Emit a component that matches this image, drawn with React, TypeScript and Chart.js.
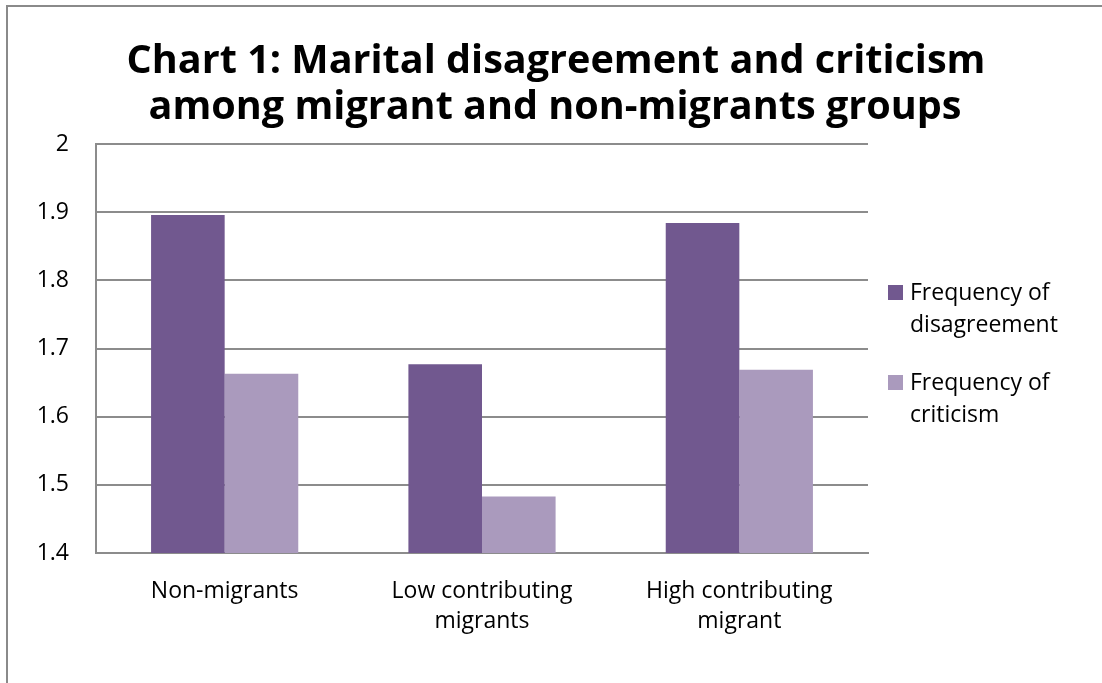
import React, { useEffect, useRef } from "react";
import { Chart, registerables } from "chart.js";

Chart.register(...registerables);

const categories: string[][] = [["Non-migrants"], ["Low contributing", "migrants"], ["High contributing", "migrant"]];
const seriesNames = ["Frequency of disagreement", "Frequency of criticism"];
const legendLines: string[][] = [["Frequency of", "disagreement"], ["Frequency of", "criticism"]];
const disagreement = [1.896, 1.677, 1.884];
const criticism = [1.663, 1.483, 1.669];
const titleLines = ["Chart 1: Marital disagreement and criticism", "among migrant and non-migrants groups"];
const yMin = 1.4;
const yMax = 2;
const yStep = 0.1;

const FONT = '"Open Sans", "DejaVu Sans", sans-serif';
const COLORS = ["#71588F", "#AA9ABD"];
const GRID = "#8c8c8c";

const framePlugin = {
  id: "frame",
  beforeDraw(chart: any) {
    const ctx = chart.ctx;
    ctx.save();
    ctx.fillStyle = "#ffffff";
    ctx.fillRect(0, 0, chart.width, chart.height);
    ctx.strokeStyle = "#8a8a8a";
    ctx.lineWidth = 2;
    ctx.beginPath();
    ctx.moveTo(7, chart.height);
    ctx.lineTo(7, 6);
    ctx.lineTo(chart.width, 6);
    ctx.stroke();
    ctx.restore();
  },
};

const titlePlugin = {
  id: "customTitle",
  afterDraw(chart: any) {
    const ctx = chart.ctx;
    ctx.save();
    ctx.fillStyle = "#000000";
    ctx.font = `bold 39.6px ${FONT}`;
    ctx.textAlign = "center";
    ctx.textBaseline = "alphabetic";
    ctx.fillText(titleLines[0], 556, 73);
    ctx.fillText(titleLines[1], 555, 119);
    ctx.restore();
  },
};

const legendPlugin = {
  id: "customLegend",
  afterDraw(chart: any) {
    const ctx = chart.ctx;
    ctx.save();
    ctx.font = `23px ${FONT}`;
    ctx.textAlign = "left";
    ctx.textBaseline = "alphabetic";
    chart.data.datasets.forEach((ds: any, i: number) => {
      const top = 285 + i * 90;
      ctx.fillStyle = ds.backgroundColor;
      ctx.fillRect(888, top, 15, 15);
      ctx.fillStyle = "#000000";
      legendLines[i].forEach((line, j) => {
        ctx.fillText(line, 910, top + 15 + j * 32);
      });
    });
    ctx.restore();
  },
};

export default function App() {
  const ref = useRef<HTMLCanvasElement | null>(null);

  useEffect(() => {
    document.body.style.margin = "0";
    const canvas = ref.current;
    if (!canvas) return;
    const chart = new Chart(canvas, {
      type: "bar",
      data: {
        labels: categories,
        datasets: [
          { label: seriesNames[0], data: disagreement, backgroundColor: COLORS[0], borderWidth: 0 },
          { label: seriesNames[1], data: criticism, backgroundColor: COLORS[1], borderWidth: 0 },
        ],
      },
      options: {
        animation: false,
        responsive: false,
        devicePixelRatio: 1,
        layout: { padding: { left: 0, right: 234, top: 144, bottom: 0 } },
        datasets: { bar: { categoryPercentage: 0.572, barPercentage: 1.0 } },
        plugins: {
          legend: { display: false },
          title: { display: false },
          tooltip: { enabled: false },
        },
        scales: {
          x: {
            grid: { display: false, drawTicks: false },
            border: { display: true, color: GRID, width: 2 },
            ticks: {
              color: "#000000",
              font: { family: FONT, size: 23, lineHeight: 1.32 },
              padding: 23,
              maxRotation: 0,
              autoSkip: false,
            },
            afterFit(scale: any) {
              scale.height = 130;
            },
          },
          y: {
            min: yMin,
            max: yMax,
            grid: { color: GRID, lineWidth: 2, drawTicks: false },
            border: { display: true, color: GRID, width: 2 },
            ticks: {
              stepSize: yStep,
              color: "#000000",
              font: { family: FONT, size: 23 },
              padding: 27,
              callback: (v: any) => String(Math.round(Number(v) * 10) / 10),
            },
            afterFit(scale: any) {
              scale.width = 96;
            },
          },
        },
      },
      plugins: [framePlugin, titlePlugin, legendPlugin],
    });
    return () => chart.destroy();
  }, []);

  return (
    <div style={{ width: 1102, height: 683 }}>
      <canvas ref={ref} width={1102} height={683} style={{ display: "block", width: 1102, height: 683 }} />
    </div>
  );
}
